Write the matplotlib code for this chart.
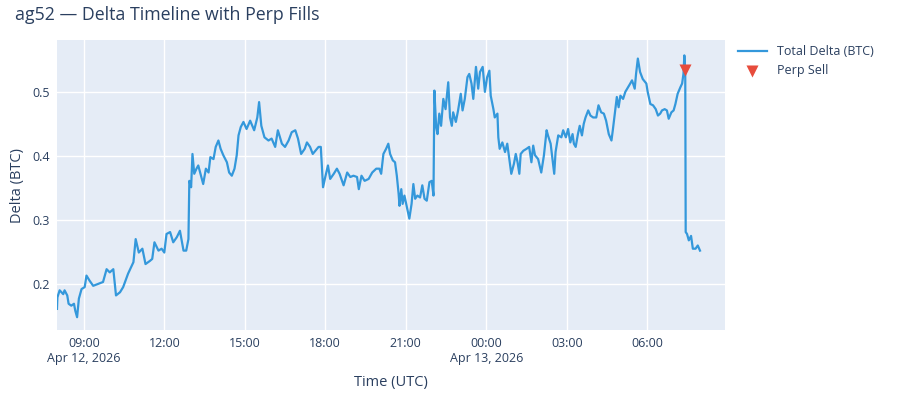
# ag52 delta timeline with the perp fill marked
import pandas as pd
import matplotlib.pyplot as plt

plt.rcParams['font.family'] = ['Open Sans', 'DejaVu Sans']

start = pd.Timestamp('2026-04-12 08:00')

# minutes after 08:00 Apr 12 (UTC) and total delta in BTC
minutes = [0, 1, 6, 14, 17, 23, 26, 32, 38, 41, 45, 49, 55, 62, 66, 73, 81, 92, 103, 111,
           118, 126, 132, 141, 148, 159, 171, 176, 183, 191, 198, 208, 213, 218, 227, 234, 240, 245, 253, 260,
           268, 275, 283, 289, 294, 296, 300, 303, 307, 312, 316, 322, 327, 333, 339, 343, 350, 355, 361, 366,
           372, 380, 385, 391, 397, 402, 406, 411, 417, 424, 432, 441, 448, 452, 457, 464, 473, 480, 488, 494,
           503, 510, 518, 525, 533, 539, 546, 554, 559, 566, 572, 578, 585, 590, 595, 600, 606, 611, 619, 626,
           632, 641, 649, 656, 663, 671, 675, 681, 688, 697, 705, 714, 721, 725,
           730, 736, 741, 745, 751, 756, 760, 764, 766, 770, 773, 777, 782, 788, 793, 797, 801, 806, 812, 817,
           822, 827, 833, 838, 842, 844, 848, 851, 855, 859, 864, 869, 875, 879, 883, 886, 892, 897, 903, 907,
           912, 918, 922, 927, 931, 937, 942, 946, 952, 957, 962, 967, 970, 976, 979, 985, 987, 990, 996, 1002,
           1007, 1011, 1016, 1022, 1026, 1030, 1034, 1037, 1043, 1050, 1056, 1061, 1065, 1069, 1076, 1083, 1089, 1095, 1098, 1104,
           1108, 1112, 1115, 1121, 1128, 1132, 1138, 1143, 1148, 1153, 1156, 1160, 1165, 1169, 1174, 1178, 1182, 1188, 1193, 1199,
           1206, 1211, 1217, 1223, 1228, 1234, 1240, 1243, 1247, 1252, 1256, 1260, 1266, 1271, 1277, 1282, 1286, 1292, 1295, 1299,
           1304, 1310, 1318, 1321, 1327, 1333, 1339, 1344, 1349, 1353, 1359, 1364, 1368, 1374, 1379, 1383, 1388, 1394, 1398, 1401,
           1403, 1405, 1406, 1409, 1413, 1418, 1422, 1428, 1433, 1438]
delta = [0.161, 0.179, 0.190, 0.184, 0.190, 0.182, 0.169, 0.166, 0.169, 0.158, 0.148, 0.177, 0.192, 0.195, 0.213, 0.205, 0.197, 0.200, 0.203, 0.223,
         0.218, 0.223, 0.182, 0.187, 0.195, 0.216, 0.234, 0.270, 0.249, 0.255, 0.231, 0.236, 0.239, 0.265, 0.252, 0.255, 0.249, 0.278, 0.281, 0.265,
         0.273, 0.283, 0.252, 0.252, 0.270, 0.361, 0.351, 0.403, 0.372, 0.380, 0.385, 0.369, 0.356, 0.380, 0.374, 0.398, 0.395, 0.414, 0.424, 0.411,
         0.401, 0.390, 0.374, 0.369, 0.380, 0.401, 0.432, 0.445, 0.453, 0.442, 0.455, 0.440, 0.460, 0.484, 0.447, 0.429, 0.424, 0.427, 0.414, 0.440,
         0.419, 0.414, 0.424, 0.437, 0.440, 0.427, 0.403, 0.411, 0.421, 0.414, 0.403, 0.408, 0.414, 0.414, 0.351, 0.367, 0.385, 0.364, 0.372, 0.380,
         0.372, 0.354, 0.374, 0.367, 0.369, 0.367, 0.348, 0.369, 0.361, 0.364, 0.374, 0.380, 0.380, 0.372,
         0.403, 0.411, 0.419, 0.403, 0.393, 0.390, 0.369, 0.341, 0.322, 0.348, 0.325, 0.338, 0.322, 0.302, 0.325, 0.356, 0.333, 0.338, 0.335, 0.354,
         0.333, 0.330, 0.359, 0.361, 0.338, 0.502, 0.445, 0.434, 0.466, 0.447, 0.489, 0.473, 0.515, 0.460, 0.447, 0.468, 0.453, 0.471, 0.497, 0.471,
         0.489, 0.523, 0.528, 0.513, 0.489, 0.539, 0.505, 0.531, 0.539, 0.500, 0.523, 0.533, 0.494, 0.473, 0.460, 0.466, 0.429, 0.411, 0.421, 0.406,
         0.419, 0.398, 0.372, 0.388, 0.403, 0.390, 0.372, 0.403, 0.408, 0.411, 0.414, 0.390, 0.416, 0.401, 0.395, 0.374, 0.401, 0.440, 0.432, 0.419,
         0.395, 0.372, 0.406, 0.432, 0.429, 0.440, 0.429, 0.442, 0.421, 0.434, 0.419, 0.414, 0.434, 0.447, 0.432, 0.450, 0.460, 0.471, 0.463, 0.460,
         0.460, 0.479, 0.468, 0.466, 0.455, 0.434, 0.424, 0.440, 0.463, 0.492, 0.476, 0.494, 0.489, 0.500, 0.507, 0.513, 0.518, 0.505, 0.528, 0.552,
         0.531, 0.520, 0.513, 0.500, 0.481, 0.479, 0.473, 0.463, 0.466, 0.471, 0.473, 0.471, 0.458, 0.468, 0.471, 0.481, 0.497, 0.507, 0.513, 0.528,
         0.557, 0.534, 0.281, 0.278, 0.268, 0.275, 0.255, 0.255, 0.260, 0.252]

# perp fills
sell_minutes = [1405]
sell_delta = [0.534]

x_ticks = ['09:00', '12:00', '15:00', '18:00', '21:00', '00:00', '03:00', '06:00']
x_tick_labels = ['09:00\nApr 12, 2026', '12:00', '15:00', '18:00', '21:00',
                 '00:00\nApr 13, 2026', '03:00', '06:00']
y_ticks = [0.2, 0.3, 0.4, 0.5]

times = start + pd.to_timedelta(minutes, unit='min')
sell_times = start + pd.to_timedelta(sell_minutes, unit='min')

txt = '#2a3f5f'
fig = plt.figure(figsize=(9, 4), dpi=100)
ax = fig.add_axes([0.0633, 0.175, 0.7423, 0.725])
ax.set_facecolor('#E5ECF6')

ax.plot(times, delta, color='#3498db', lw=1.6, label='Total Delta (BTC)', zorder=3)
ax.scatter(sell_times, sell_delta, marker='v', s=75, color='#e74c3c',
           label='Perp Sell', zorder=4, linewidths=0)

tick_pos = []
day = start.normalize()
for t in x_ticks:
    p = day + pd.Timedelta(t + ':00')
    if p < start:
        p += pd.Timedelta(days=1)
    tick_pos.append(p)
ax.set_xticks(tick_pos)
ax.set_xticklabels(x_tick_labels, ha='center', linespacing=1.25)
ax.set_xlim(start, start + pd.Timedelta(minutes=1494))
ax.set_yticks(y_ticks)
ax.set_yticklabels([f'{v:g}' for v in y_ticks])
ax.set_ylim(0.128, 0.581)

ax.grid(True, color='white', lw=1)
ax.set_axisbelow(True)
for s in ax.spines.values():
    s.set_visible(False)
ax.tick_params(length=0, labelsize=9, labelcolor=txt, pad=5)

ax.set_xlabel('Time (UTC)', fontsize=10.5, color=txt, labelpad=7)
ax.set_ylabel('Delta (BTC)', fontsize=10.5, color=txt, labelpad=5)
fig.text(0.017, 0.962, 'ag52 — Delta Timeline with Perp Fills', fontsize=12.8,
         color=txt, va='center')

leg = ax.legend(loc='upper left', bbox_to_anchor=(1.012, 1.0), frameon=False,
                fontsize=9, labelcolor=txt, handlelength=2.3, borderaxespad=0)

fig.savefig('out.png', dpi=100)
